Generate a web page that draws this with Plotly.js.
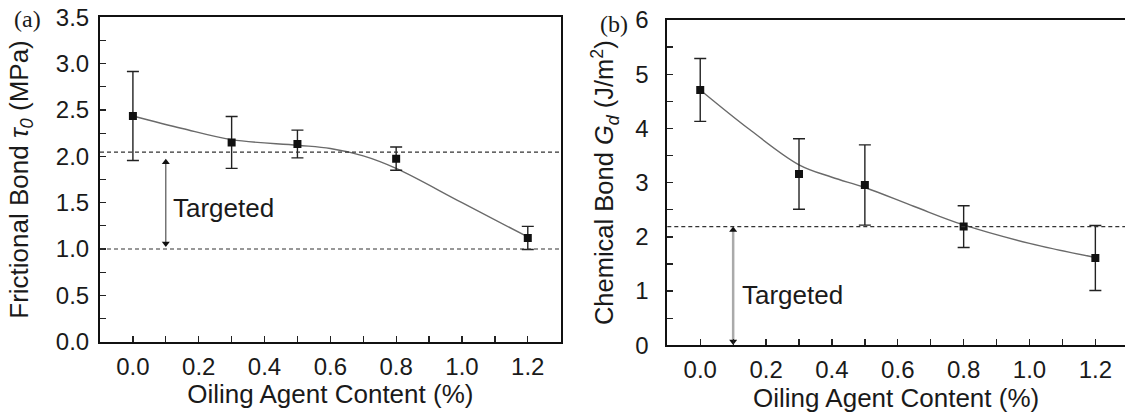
<!DOCTYPE html>
<html>
<head>
<meta charset="utf-8">
<script src="https://cdn.plot.ly/plotly-3.0.1.min.js"></script>
<style>
  html, body { margin: 0; padding: 0; background: #fff; }
  #chart { width: 1125px; height: 415px; }
</style>
</head>
<body>
<div id="chart"></div>
<script>
// ---- Panel (a): frictional bond ----
const contentA = [0, 0.3, 0.5, 0.8, 1.2];
const tauValues = [2.435, 2.15, 2.133, 1.975, 1.119];
const tauErrors = [0.48, 0.28, 0.15, 0.125, 0.125];
const tauFitX = [0, 0.15, 0.3, 0.5, 0.6, 0.7, 0.8, 1.0, 1.2];
const tauFitY = [2.435, 2.30, 2.18, 2.12, 2.085, 2.005, 1.87, 1.50, 1.13];
const tauTargets = [2.045, 1.0];
const tauArrowEnds = [1.06, 1.935];

// ---- Panel (b): chemical bond ----
const contentB = [0, 0.3, 0.5, 0.8, 1.2];
const gdValues = [4.71, 3.16, 2.957, 2.19, 1.61];
const gdErrors = [0.58, 0.65, 0.74, 0.385, 0.6];
const gdFitX = [0, 0.15, 0.3, 0.4, 0.5, 0.65, 0.8, 1.0, 1.2];
const gdFitY = [4.71, 3.98, 3.33, 3.10, 2.91, 2.56, 2.22, 1.88, 1.62];
const gdTargets = [2.19];
const gdArrowEnds = [0.07, 2.125];

const arrowX = 0.1;
const xTickVals = [0, 0.2, 0.4, 0.6, 0.8, 1.0, 1.2];
const xTitle = 'Oiling Agent Content (%)';
const yTitleA = 'Frictional Bond <i>τ<sub>0</sub></i> (MPa)';
const yTitleB = 'Chemical Bond <i>G<sub>d</sub></i> (J/m<sup>2</sup>)';
const targetLabel = 'Targeted';

const FONT = 'Liberation Sans, Arial, Helvetica, sans-serif';
const INK = '#1a1a1a';

function errTrace(x, y, e, xa, ya) {
  return {
    x: x, y: y, xaxis: xa, yaxis: ya, type: 'scatter', mode: 'markers',
    marker: { symbol: 'square', size: 8, color: '#111' },
    error_y: { type: 'data', array: e, visible: true, color: '#222', thickness: 1.4, width: 6 },
    showlegend: false, hoverinfo: 'x+y'
  };
}
function fitTrace(x, y, xa, ya) {
  return {
    x: x, y: y, xaxis: xa, yaxis: ya, type: 'scatter', mode: 'lines',
    line: { shape: 'spline', smoothing: 1, color: '#6a6a6a', width: 1.4 },
    showlegend: false, hoverinfo: 'skip'
  };
}
function arrowTrace(ends, xa, ya, lineColor, lineWidth, headSize) {
  return {
    x: [arrowX, arrowX], y: ends, xaxis: xa, yaxis: ya, type: 'scatter', mode: 'lines+markers',
    line: { color: lineColor, width: lineWidth },
    marker: { symbol: ['triangle-down', 'triangle-up'], size: headSize, color: '#111', line: { width: 0 } },
    showlegend: false, hoverinfo: 'skip'
  };
}

const data = [
  fitTrace(tauFitX, tauFitY, 'x', 'y'),
  arrowTrace(tauArrowEnds, 'x', 'y', '#444', 1.1, 7),
  errTrace(contentA, tauValues, tauErrors, 'x', 'y'),
  fitTrace(gdFitX, gdFitY, 'x2', 'y2'),
  arrowTrace(gdArrowEnds, 'x2', 'y2', '#aaaaaa', 2.5, 7),
  errTrace(contentB, gdValues, gdErrors, 'x2', 'y2')
];

function xAxis(domain, range, anchor) {
  return {
    domain: domain, range: range, anchor: anchor,
    tickvals: xTickVals, tickformat: '.1f',
    ticks: 'inside', ticklen: 6, tickwidth: 1.3, tickcolor: '#222',
    minor: { ticks: 'inside', dtick: 0.1, tick0: 0, ticklen: 6, tickwidth: 1.3, tickcolor: '#222' },
    showline: true, linewidth: 2, linecolor: '#111', mirror: true,
    showgrid: false, zeroline: false,
    tickfont: { family: FONT, size: 24, color: INK },
    ticklabelstandoff: 2,
    title: { text: xTitle, font: { family: FONT, size: 26, color: INK }, standoff: 3 },
    automargin: false, fixedrange: true
  };
}
function yAxis(domain, range, anchor, dtick, minorD, fmt, mirror, standoffLabel, titleText, titleSize, titleStandoff) {
  return {
    domain: domain, range: range, anchor: anchor,
    dtick: dtick, tick0: 0, tickformat: fmt,
    ticks: 'inside', ticklen: 6, tickwidth: 1.3, tickcolor: '#222',
    minor: { ticks: 'inside', dtick: minorD, tick0: 0, ticklen: 6, tickwidth: 1.3, tickcolor: '#222' },
    showline: true, linewidth: 2, linecolor: '#111', mirror: mirror,
    showgrid: false, zeroline: false,
    tickfont: { family: FONT, size: 24, color: INK },
    ticklabelstandoff: standoffLabel,
    automargin: false, fixedrange: true,
    title: { text: titleText, font: { family: FONT, size: titleSize, color: INK }, standoff: titleStandoff }
  };
}

const layout = {
  width: 1125, height: 415,
  margin: { l: 0, r: 0, t: 0, b: 0, pad: 0 },
  paper_bgcolor: '#ffffff', plot_bgcolor: '#ffffff',
  showlegend: false,
  xaxis: xAxis([100 / 1125, 560.7 / 1125], [-0.1, 1.3], 'y'),
  yaxis: yAxis([(415 - 341.7) / 415, (415 - 17.3) / 415], [0, 3.5], 'x', 0.5, 0.25, '.1f', true, 4, yTitleA, 26, 20),
  xaxis2: xAxis([667.3 / 1125, 1], [-0.1, 1.29], 'y2'),
  yaxis2: yAxis([(415 - 345.3) / 415, (415 - 20) / 415], [0, 6], 'x2', 1, 0.5, 'd', false, 12, yTitleB, 25.5, 14),
  shapes: [
    ...tauTargets.map(v => ({
      type: 'line', xref: 'x domain', yref: 'y', x0: 0, x1: 1, y0: v, y1: v,
      line: { color: '#333', width: 1.2, dash: '4px,3px' }
    })),
    ...gdTargets.map(v => ({
      type: 'line', xref: 'x2 domain', yref: 'y2', x0: 0, x1: 1, y0: v, y1: v,
      line: { color: '#333', width: 1.2, dash: '4px,3px' }
    }))
  ],
  annotations: [
    { xref: 'x', yref: 'y', x: 0.117, y: 1.445, xanchor: 'left', yanchor: 'middle', showarrow: false,
      text: targetLabel, font: { family: FONT, size: 26, color: INK } },
    { xref: 'x2', yref: 'y2', x: 0.12, y: 0.935, xanchor: 'left', yanchor: 'middle', showarrow: false,
      text: targetLabel, font: { family: FONT, size: 26, color: INK } },
    { xref: 'paper', yref: 'paper', x: 27 / 1125, y: 1 - 19 / 415, xanchor: 'center', yanchor: 'middle', showarrow: false,
      text: '(a)', font: { family: 'Liberation Serif, Times New Roman, serif', size: 24, color: INK } },
    { xref: 'paper', yref: 'paper', x: 614 / 1125, y: 1 - 24 / 415, xanchor: 'center', yanchor: 'middle', showarrow: false,
      text: '(b)', font: { family: 'Liberation Serif, Times New Roman, serif', size: 24, color: INK } }
  ],
  font: { family: FONT, color: INK }
};

Plotly.newPlot('chart', data, layout, { staticPlot: true, displayModeBar: false });
</script>
</body>
</html>
